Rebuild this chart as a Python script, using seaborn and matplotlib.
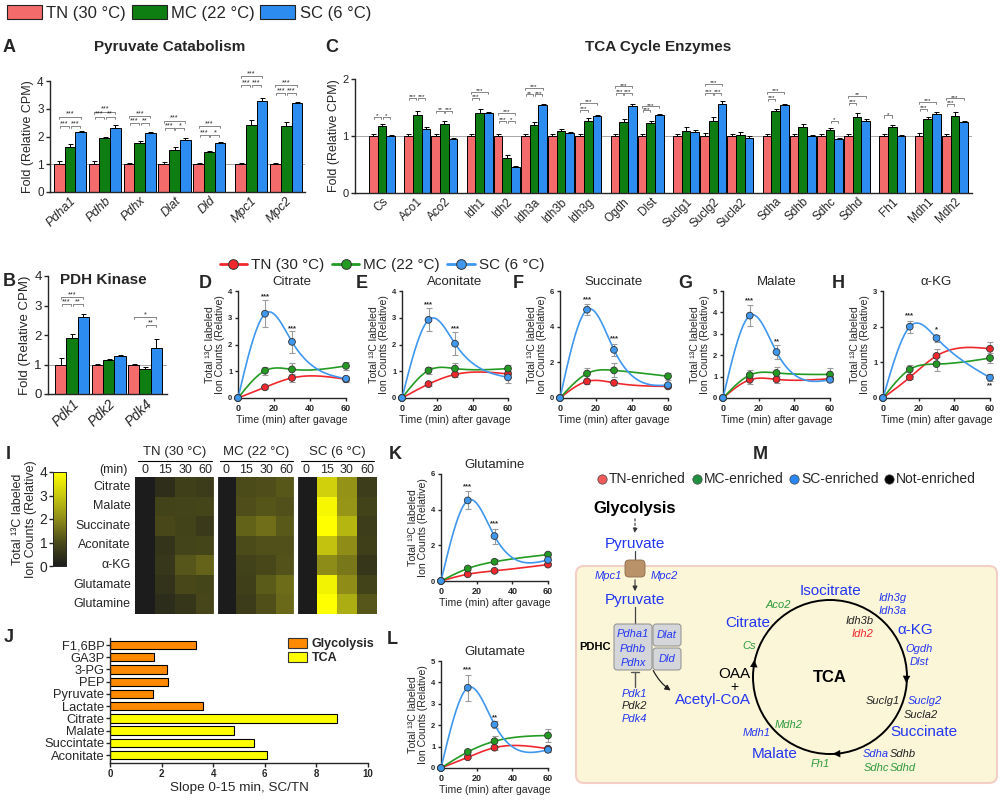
import matplotlib
matplotlib.use('Agg')
import numpy as np
import pandas as pd
import matplotlib.pyplot as plt
import seaborn as sns
from matplotlib.patches import Patch, FancyBboxPatch, Circle, FancyArrowPatch
from matplotlib.lines import Line2D
from matplotlib.colors import LinearSegmentedColormap

# =========================
# DATA
# =========================
groups = ['TN (30 °C)', 'MC (22 °C)', 'SC (6 °C)']
bar_colors = ['#f46b6b', '#0e7d12', '#2d8cf0']
line_colors = ['#f0282d', '#239b23', '#3f97ee']

# A - pyruvate catabolism
pyr_genes = ['Pdha1', 'Pdhb', 'Pdhx', 'Dlat', 'Dld', 'Mpc1', 'Mpc2']
pyr_pos = [0, 1, 2, 3, 4, 5.2, 6.2]
pyr_tn = [1.0, 1.0, 1.0, 1.0, 1.0, 1.0, 1.0]
pyr_mc = [1.63, 1.93, 1.75, 1.53, 1.43, 2.43, 2.37]
pyr_sc = [2.15, 2.32, 2.12, 1.88, 1.75, 3.27, 3.22]
pyr_err_tn = [0.10, 0.13, 0.06, 0.08, 0.05, 0.06, 0.03]
pyr_err_mc = [0.10, 0.05, 0.08, 0.08, 0.03, 0.15, 0.15]
pyr_err_sc = [0.05, 0.10, 0.05, 0.05, 0.05, 0.10, 0.04]
# (gene index, group a, group b, height, stars)
pyr_sig = [(0, 0, 2, 2.72, '***'), (0, 0, 1, 2.38, '***'), (0, 1, 2, 2.38, '***'),
           (1, 0, 2, 2.90, '***'), (1, 0, 1, 2.72, '***'), (1, 1, 2, 2.72, '**'),
           (2, 0, 2, 2.74, '***'), (2, 0, 1, 2.48, '***'), (2, 1, 2, 2.48, '**'),
           (3, 0, 2, 2.57, '***'), (3, 0, 1, 2.29, '***'), (3, 1, 2, 2.29, '*'),
           (4, 0, 2, 2.38, '***'), (4, 0, 1, 2.06, '***'), (4, 1, 2, 2.06, '*'),
           (5, 0, 2, 4.18, '***'), (5, 0, 1, 3.86, '***'), (5, 1, 2, 3.86, '***'),
           (6, 0, 2, 3.86, '***'), (6, 0, 1, 3.56, '***'), (6, 1, 2, 3.56, '***')]

# B - PDH kinase
pdk_genes = ['Pdk1', 'Pdk2', 'Pdk4']
pdk_pos = [0, 1, 2]
pdk_tn = [1.0, 1.0, 1.0]
pdk_mc = [1.9, 1.15, 0.85]
pdk_sc = [2.6, 1.28, 1.55]
pdk_err_tn = [0.22, 0.03, 0.03]
pdk_err_mc = [0.12, 0.05, 0.07]
pdk_err_sc = [0.10, 0.03, 0.30]
pdk_sig = [(0, 0, 2, 3.30, '***'), (0, 0, 1, 3.04, '***'), (0, 1, 2, 3.04, '**'),
           (2, 0, 2, 2.62, '*'), (2, 1, 2, 2.34, '**')]

# C - TCA cycle enzymes
tca_genes = ['Cs', 'Aco1', 'Aco2', 'Idh1', 'Idh2', 'Idh3a', 'Idh3b', 'Idh3g', 'Ogdh', 'Dlst',
             'Suclg1', 'Suclg2', 'Sucla2', 'Sdha', 'Sdhb', 'Sdhc', 'Sdhd', 'Fh1', 'Mdh1', 'Mdh2']
tca_pos = [0, 1.3, 2.3, 3.6, 4.6, 5.6, 6.6, 7.6, 8.9, 9.9,
           11.2, 12.2, 13.2, 14.5, 15.5, 16.5, 17.5, 18.8, 20.1, 21.1]
tca_tn = [1.0] * 20
tca_mc = [1.17, 1.36, 1.21, 1.40, 0.62, 1.20, 1.08, 1.27, 1.25, 1.23,
          1.08, 1.26, 1.02, 1.43, 1.15, 1.10, 1.33, 1.16, 1.30, 1.35]
tca_sc = [1.00, 1.12, 0.95, 1.40, 0.45, 1.54, 1.05, 1.35, 1.52, 1.37,
          1.07, 1.57, 0.97, 1.55, 1.00, 0.95, 1.27, 1.00, 1.38, 1.25]
tca_err_tn = [0.03, 0.03, 0.04, 0.04, 0.03, 0.04, 0.04, 0.03, 0.04, 0.04,
              0.04, 0.06, 0.03, 0.03, 0.03, 0.03, 0.04, 0.04, 0.06, 0.03]
tca_err_mc = [0.04, 0.08, 0.05, 0.08, 0.05, 0.05, 0.04, 0.04, 0.05, 0.03,
              0.07, 0.08, 0.05, 0.04, 0.06, 0.04, 0.08, 0.04, 0.03, 0.07]
tca_err_sc = [0.02, 0.03, 0.02, 0.02, 0.02, 0.03, 0.02, 0.02, 0.04, 0.02,
              0.03, 0.04, 0.03, 0.02, 0.02, 0.02, 0.03, 0.02, 0.04, 0.02]
tca_sig = [(0, 0, 1, 1.33, '*'), (0, 1, 2, 1.33, '*'),
           (1, 0, 1, 1.67, '***'), (1, 1, 2, 1.67, '***'),
           (2, 0, 1, 1.44, '**'), (2, 1, 2, 1.44, '***'),
           (3, 0, 2, 1.78, '***'), (3, 0, 1, 1.67, '***'),
           (4, 0, 2, 1.40, '***'), (4, 0, 1, 1.27, '***'), (4, 1, 2, 1.27, '*'),
           (5, 0, 2, 1.84, '***'), (5, 0, 1, 1.73, '**'), (5, 1, 2, 1.73, '***'),
           (7, 0, 2, 1.58, '***'), (7, 0, 1, 1.46, '***'),
           (8, 0, 2, 1.87, '***'), (8, 0, 1, 1.75, '***'), (8, 1, 2, 1.75, '***'),
           (9, 0, 2, 1.52, '***'), (9, 0, 1, 1.45, '***'),
           (11, 0, 2, 1.91, '***'), (11, 0, 1, 1.76, '***'), (11, 1, 2, 1.76, '***'),
           (13, 0, 2, 1.78, '***'), (13, 0, 1, 1.65, '***'),
           (15, 1, 2, 1.26, '*'),
           (16, 0, 2, 1.71, '**'), (16, 0, 1, 1.58, '***'),
           (17, 0, 1, 1.36, '*'),
           (18, 0, 2, 1.60, '***'), (18, 0, 1, 1.47, '***'),
           (19, 0, 2, 1.66, '***'), (19, 0, 1, 1.56, '***')]

# D-H, K, L - 13C labelling time courses
times = [0, 15, 30, 60]
citrate = {'tn': [0, 0.40, 0.75, 0.70], 'mc': [0, 1.02, 1.07, 1.20], 'sc': [0, 3.15, 2.10, 0.72],
           'err': [[0, 0.05, 0.15, 0.10], [0, 0.15, 0.22, 0.15], [0, 0.50, 0.40, 0.10]]}
aconitate = {'tn': [0, 0.52, 0.88, 0.90], 'mc': [0, 1.03, 1.10, 1.10], 'sc': [0, 2.92, 2.03, 0.77],
             'err': [[0, 0.08, 0.10, 0.10], [0, 0.12, 0.20, 0.12], [0, 0.43, 0.42, 0.20]]}
succinate = {'tn': [0, 0.93, 0.85, 0.65], 'mc': [0, 1.37, 1.55, 1.22], 'sc': [0, 4.95, 2.70, 0.72],
             'err': [[0, 0.13, 0.10, 0.10], [0, 0.30, 0.40, 0.20], [0, 0.30, 0.35, 0.10]]}
malate = {'tn': [0, 0.85, 0.87, 0.90], 'mc': [0, 1.07, 1.17, 1.10], 'sc': [0, 3.85, 2.15, 0.85],
          'err': [[0, 0.20, 0.15, 0.12], [0, 0.25, 0.30, 0.30], [0, 0.48, 0.35, 0.10]]}
akg = {'tn': [0, 0.58, 1.18, 1.38], 'mc': [0, 0.80, 0.95, 1.12], 'sc': [0, 2.00, 1.68, 0.57],
       'err': [[0, 0.05, 0.18, 0.18], [0, 0.12, 0.20, 0.15], [0, 0.17, 0.10, 0.10]]}
glutamine = {'tn': [0, 0.38, 0.57, 0.92], 'mc': [0, 0.70, 1.08, 1.48], 'sc': [0, 4.52, 2.52, 1.18],
             'err': [[0, 0.05, 0.08, 0.10], [0, 0.08, 0.15, 0.15], [0, 0.50, 0.42, 0.15]]}
glutamate = {'tn': [0, 0.50, 0.95, 0.90], 'mc': [0, 0.75, 1.25, 1.52], 'sc': [0, 3.75, 2.03, 0.85],
             'err': [[0, 0.05, 0.10, 0.10], [0, 0.10, 0.25, 0.30], [0, 0.60, 0.15, 0.10]]}

# I - heatmap rows
hm_rows = ['Citrate', 'Malate', 'Succinate', 'Aconitate', 'α-KG', 'Glutamate', 'Glutamine']
hm_series = [citrate, malate, succinate, aconitate, akg, glutamate, glutamine]
hm_cols = ['0', '15', '30', '60'] * 3

# J - slopes
slope_labels = ['F1,6BP', 'GA3P', '3-PG', 'PEP', 'Pyruvate', 'Lactate',
                'Citrate', 'Malate', 'Succintate', 'Aconitate']
slope_vals = [3.35, 1.7, 2.2, 2.25, 1.65, 3.6, 8.8, 4.8, 5.6, 6.1]
slope_path = ['Glycolysis'] * 6 + ['TCA'] * 4

# =========================
# STYLE
# =========================
sns.set_style('ticks')
plt.rcParams['font.family'] = ['Liberation Sans', 'DejaVu Sans']
plt.rcParams['axes.linewidth'] = 1.0
plt.rcParams['xtick.major.width'] = 1.0
plt.rcParams['ytick.major.width'] = 1.0

W, H = 1002, 801


def box(x0, y0, x1, y1):
    return [x0 / W, 1 - y1 / H, (x1 - x0) / W, (y1 - y0) / H]


def fx(x):
    return x / W


def fy(y):
    return 1 - y / H


fig = plt.figure(figsize=(10.02, 8.01), dpi=100)


# =========================
# BAR PANELS
# =========================
def bar_panel(ax, genes, pos, means, errs, width, sig, ymax, italic, fs, star_fs=5.2):
    rows = []
    for g, vals in zip(groups, means):
        for p, v in zip(pos, vals):
            rows.append((p, g, v))
    df = pd.DataFrame(rows, columns=['pos', 'group', 'fold'])
    sns.barplot(data=df, x='pos', y='fold', hue='group', hue_order=groups,
                palette=bar_colors, native_scale=True, width=width, errorbar=None,
                saturation=1, edgecolor='black', linewidth=0.7, legend=False, ax=ax, zorder=2)
    bw = width / 3
    for i, (vals, ers) in enumerate(zip(means, errs)):
        xs = np.array(pos) + (i - 1) * bw
        ax.errorbar(xs, vals, yerr=[np.zeros(len(vals)), ers], fmt='none',
                    ecolor='black', elinewidth=0.7, capsize=1.8, capthick=0.7, zorder=3)
    ax.axhline(1, color='#9a9a9a', lw=0.6, zorder=1)
    dy = ymax * 0.018
    for gi, a, b, y, lab in sig:
        x0 = pos[gi] + (a - 1) * bw
        x1 = pos[gi] + (b - 1) * bw
        if b - a == 1:
            x0 += bw * 0.08
            x1 -= bw * 0.08
        ax.plot([x0, x0, x1, x1], [y - dy, y, y, y - dy], color='#555555', lw=0.5, clip_on=False)
        ax.text((x0 + x1) / 2, y - dy * 0.6, lab, ha='center', va='bottom', fontsize=star_fs,
                color='#222222', clip_on=False)
    ax.set_ylim(0, ymax)
    ax.set_xticks(pos)
    ax.set_xticklabels(genes, rotation=45, ha='right', rotation_mode='anchor',
                       fontstyle='italic' if italic else 'normal', fontsize=fs)
    ax.tick_params(axis='x', length=0, pad=2)
    ax.tick_params(axis='y', length=3, labelsize=fs - 0.5, pad=1.5)
    ax.set_xlabel('')
    sns.despine(ax=ax)


axA = fig.add_axes(box(50, 81, 305, 192))
bar_panel(axA, pyr_genes, pyr_pos, [pyr_tn, pyr_mc, pyr_sc],
          [pyr_err_tn, pyr_err_mc, pyr_err_sc], 0.92, pyr_sig, 4, True, 9)
axA.set_xlim(-0.57, 6.74)
axA.set_yticks([0, 1, 2, 3, 4])
axA.set_ylabel('Fold (Relative CPM)', fontsize=9, labelpad=2)

axC = fig.add_axes(box(355, 79, 972, 193))
bar_panel(axC, tca_genes, tca_pos, [tca_tn, tca_mc, tca_sc],
          [tca_err_tn, tca_err_mc, tca_err_sc], 0.96, tca_sig, 2, False, 8.5, star_fs=4.6)
axC.set_xlim(-0.99, 21.73)
axC.set_yticks([0, 1, 2])
axC.set_ylabel('Fold (Relative CPM)', fontsize=9, labelpad=2)

axB = fig.add_axes(box(48, 276, 167, 394))
bar_panel(axB, pdk_genes, pdk_pos, [pdk_tn, pdk_mc, pdk_sc],
          [pdk_err_tn, pdk_err_mc, pdk_err_sc], 0.93, pdk_sig, 4, True, 10)
axB.set_xlim(-0.66, 2.6)
axB.set_yticks([0, 1, 2, 3, 4])
axB.set_ylabel('Fold (Relative CPM)', fontsize=9.5, labelpad=2)

fig.text(fx(170), fy(47), 'Pyruvate Catabolism', ha='center', va='center', fontsize=11, weight='bold')
fig.text(fx(658), fy(47), 'TCA Cycle Enzymes', ha='center', va='center', fontsize=11, weight='bold')
fig.text(fx(103), fy(280), 'PDH Kinase', ha='center', va='center', fontsize=11, weight='bold')

fig.legend([Patch(facecolor=c, edgecolor='#222222', lw=0.8) for c in bar_colors], groups,
           loc='upper left', bbox_to_anchor=(-0.008, 1.012), ncol=3, frameon=False, fontsize=12,
           handlelength=2.1, handleheight=0.9, handletextpad=0.25, columnspacing=0.35)


# =========================
# TIME COURSE PANELS
# =========================
def natural_spline(xs, ys, num=200):
    xs = np.asarray(xs, float)
    ys = np.asarray(ys, float)
    n = len(xs)
    h = np.diff(xs)
    A = np.zeros((n, n))
    b = np.zeros(n)
    A[0, 0] = A[-1, -1] = 1
    for i in range(1, n - 1):
        A[i, i - 1] = h[i - 1]
        A[i, i] = 2 * (h[i - 1] + h[i])
        A[i, i + 1] = h[i]
        b[i] = 6 * ((ys[i + 1] - ys[i]) / h[i] - (ys[i] - ys[i - 1]) / h[i - 1])
    M = np.linalg.solve(A, b)
    xx = np.linspace(xs[0], xs[-1], num)
    idx = np.clip(np.searchsorted(xs, xx) - 1, 0, n - 2)
    x0, x1 = xs[idx], xs[idx + 1]
    hh = x1 - x0
    t0, t1 = x1 - xx, xx - x0
    yy = (M[idx] * t0 ** 3 / (6 * hh) + M[idx + 1] * t1 ** 3 / (6 * hh)
          + (ys[idx] / hh - M[idx] * hh / 6) * t0 + (ys[idx + 1] / hh - M[idx + 1] * hh / 6) * t1)
    return xx, yy


def line_panel(rect, title, d, ymax, yticks, stars):
    ax = fig.add_axes(rect)
    series = [d['tn'], d['mc'], d['sc']]
    rows = []
    for g, vals in zip(groups, series):
        for t, v in zip(times, vals):
            rows.append((t, g, v))
    df = pd.DataFrame(rows, columns=['time', 'group', 'value'])
    for vals, er, c in zip(series, d['err'], line_colors):
        xx, yy = natural_spline(times, vals)
        ax.plot(xx, yy, color=c, lw=1.2, clip_on=False, zorder=3)
        ax.errorbar(times, vals, yerr=er, fmt='none', ecolor='#9a9a9a', elinewidth=0.8,
                    capsize=2, capthick=0.8, clip_on=False, zorder=2)
    sns.scatterplot(data=df, x='time', y='value', hue='group', hue_order=groups,
                    palette=line_colors, s=24, edgecolor='#333333', linewidth=0.6,
                    legend=False, ax=ax, clip_on=False, zorder=5)
    for t, y, lab in stars:
        ax.text(t, y, lab, ha='center', va='center', fontsize=5.5, weight='bold')
    ax.set_xlim(0, 60)
    ax.set_ylim(0, ymax)
    ax.set_xticks([0, 20, 40, 60])
    ax.set_yticks(yticks)
    ax.tick_params(axis='both', length=2.5, pad=1.5)
    ax.tick_params(axis='x', labelsize=6.5)
    ax.tick_params(axis='y', labelsize=5.5)
    for lab in ax.get_xticklabels() + ax.get_yticklabels():
        lab.set_fontweight('bold')
    ax.set_title(title, fontsize=9.5, pad=4)
    ax.set_xlabel('Time (min) after gavage', fontsize=7.6, labelpad=2)
    ax.set_ylabel('Total ¹³C labeled\nIon Counts (Relative)', fontsize=7.6, labelpad=2,
                  linespacing=1.1)
    sns.despine(ax=ax)
    return ax


line_panel(box(238, 291, 346, 398), 'Citrate', citrate, 4, [0, 1, 2, 3, 4],
           [(15, 3.78, '***'), (30, 2.6, '***')])
line_panel(box(402, 291, 508, 398), 'Aconitate', aconitate, 4, [0, 1, 2, 3, 4],
           [(15, 3.5, '***'), (30, 2.58, '***')])
line_panel(box(560, 291, 668, 398), 'Succinate', succinate, 6, [0, 2, 4, 6],
           [(15, 5.5, '***'), (30, 3.3, '***')])
line_panel(box(723, 291, 830, 398), 'Malate', malate, 5, [0, 1, 2, 3, 4, 5],
           [(15, 4.55, '***'), (30, 2.65, '**')])
line_panel(box(883, 291, 990, 398), 'α-KG', akg, 3, [0, 1, 2, 3],
           [(15, 2.32, '***'), (30, 1.9, '*'), (60, 0.33, '**')])
line_panel(box(441, 474, 548, 581), 'Glutamine', glutamine, 6, [0, 2, 4, 6],
           [(15, 5.3, '***'), (30, 3.2, '***')])
line_panel(box(441, 661, 548, 768), 'Glutamate', glutamate, 5, [0, 1, 2, 3, 4, 5],
           [(15, 4.6, '***'), (30, 2.35, '**')])

fig.legend([Line2D([0], [0], color=c, lw=2, marker='o', markersize=7,
                   markeredgecolor='#333333', markeredgewidth=0.7) for c in line_colors],
           groups, loc='center', bbox_to_anchor=(fx(382), fy(265)), ncol=3, frameon=False,
           fontsize=11, handlelength=1.8, handletextpad=0.25, columnspacing=0.5)

# =========================
# HEATMAP (I)
# =========================
hm = np.array([s['tn'] + s['mc'] + s['sc'] for s in hm_series])
hm_cmap = LinearSegmentedColormap.from_list(
    'ky', ['#1c1c1c', '#4a4a1a', '#8e8c18', '#c8c80e', '#ffff00'])
hax = fig.add_axes(box(135, 477, 377, 614))
cax = fig.add_axes(box(53, 472, 66, 566))
sns.heatmap(hm, ax=hax, cmap=hm_cmap, vmin=0, vmax=4, cbar_ax=cax,
            xticklabels=hm_cols, yticklabels=hm_rows)
hax.xaxis.tick_top()
hax.tick_params(axis='both', length=0, labelsize=9)
hax.tick_params(axis='x', pad=1)
hax.tick_params(axis='y', pad=3)
plt.setp(hax.get_yticklabels(), rotation=0)
plt.setp(hax.get_xticklabels(), rotation=0)
for xv in [4, 8]:
    hax.axvline(xv, color='white', lw=3)
cax.yaxis.set_ticks_position('left')
cax.yaxis.set_label_position('left')
cax.set_yticks([0, 1, 2, 3, 4])
cax.tick_params(labelsize=10, length=3, pad=1)
cax.set_ylabel('Total ¹³C labeled\nIon Counts (Relative)', fontsize=9, labelpad=2, linespacing=1.1)
for sp in cax.spines.values():
    sp.set_visible(True)
    sp.set_linewidth(0.6)

for x0, x1, lab in [(135, 215, groups[0]), (217, 296, groups[1]), (298, 377, groups[2])]:
    fig.text(fx((x0 + x1) / 2), fy(452), lab, ha='center', va='center', fontsize=9.5)
    fig.add_artist(Line2D([fx(x0 + 3), fx(x1 - 3)], [fy(461), fy(461)], color='black',
                          lw=0.8, transform=fig.transFigure))
fig.text(fx(128), fy(470), '(min)', ha='right', va='center', fontsize=9)

# =========================
# SLOPES (J)
# =========================
jax = fig.add_axes(box(110, 638, 368, 763))
sdf = pd.DataFrame({'metab': slope_labels, 'slope': slope_vals, 'path': slope_path})
path_colors = {'Glycolysis': '#ff8a00', 'TCA': '#ffff00'}
sns.barplot(data=sdf, x='slope', y='metab', hue='path', palette=path_colors, dodge=False,
            width=0.68, saturation=1, edgecolor='black', linewidth=0.8, legend=False, ax=jax)
jax.set_xlim(0, 10)
jax.set_ylim(9.65, -0.57)
jax.set_xticks([0, 2, 4, 6, 8, 10])
jax.tick_params(axis='y', labelsize=9.3, length=3, pad=1)
jax.tick_params(axis='x', labelsize=7, length=3, pad=1.5)
for lab in jax.get_xticklabels():
    lab.set_fontweight('bold')
jax.set_ylabel('')
jax.set_xlabel('Slope 0-15 min, SC/TN', fontsize=9.7, labelpad=2)
sns.despine(ax=jax)
jax.legend([Patch(facecolor=path_colors[k], edgecolor='#333333', lw=0.8) for k in path_colors],
           list(path_colors), loc='upper left', bbox_to_anchor=(0.665, 1.05), frameon=False,
           prop={'weight': 'bold', 'size': 9}, handlelength=1.5, handleheight=0.8,
           handletextpad=0.4, labelspacing=0.15, borderpad=0)

# =========================
# SCHEMATIC (M)
# =========================
BLUE = '#2336f0'
GREEN = '#2f9a3c'
RED = '#f0242a'
DARK = '#222222'
mx = fig.add_axes(box(560, 440, 1002, 801))
mx.set_xlim(560, 1002)
mx.set_ylim(801, 440)
mx.axis('off')

leg_x = [602, 697, 794, 889]
leg_colors = ['#f05a5a', '#1e9040', '#2a86f0', 'black']
leg_labels = ['TN-enriched', 'MC-enriched', 'SC-enriched', 'Not-enriched']
for x, c, lab in zip(leg_x, leg_colors, leg_labels):
    mx.scatter([x], [479], s=45, color=c, edgecolor='#444444', linewidth=0.5, zorder=3)
    mx.text(x + 7, 479, lab, ha='left', va='center', fontsize=10)

mx.add_patch(FancyBboxPatch((576, 566), 421, 217, boxstyle='round,pad=0,rounding_size=8',
                            facecolor='#fbf6d8', edgecolor='#f4cfc6', lw=1.5, zorder=0))

mx.add_patch(FancyArrowPatch((635, 516), (635, 536), arrowstyle='-|>', mutation_scale=7,
                             color='#333333', lw=0.8, linestyle=(0, (2, 2))))
mx.plot([635, 635], [551, 560], color='#444444', lw=0.9)
mx.add_patch(FancyBboxPatch((625, 560), 20, 17, boxstyle='round,pad=0,rounding_size=4',
                            facecolor='#b9926a', edgecolor='#8a6a4a', lw=0.6, zorder=2))
mx.add_patch(FancyArrowPatch((635, 577), (635, 594), arrowstyle='-|>', mutation_scale=7,
                             color='#333333', lw=0.8))
mx.plot([635, 635], [607, 624], color='#444444', lw=0.9)
mx.add_patch(FancyBboxPatch((614, 624), 38, 46, boxstyle='round,pad=0,rounding_size=3',
                            facecolor='#d4d6da', edgecolor='#8c8c8c', lw=0.7, zorder=2))
mx.add_patch(FancyBboxPatch((653, 624), 28, 22, boxstyle='round,pad=0,rounding_size=3',
                            facecolor='#d4d6da', edgecolor='#8c8c8c', lw=0.7, zorder=2))
mx.add_patch(FancyBboxPatch((653, 648), 28, 22, boxstyle='round,pad=0,rounding_size=3',
                            facecolor='#d4d6da', edgecolor='#8c8c8c', lw=0.7, zorder=2))
mx.plot([635, 635], [672, 687], color='#555555', lw=1.0)
mx.plot([631, 639], [672, 672], color='#555555', lw=1.0)
mx.add_patch(FancyArrowPatch((652, 668), (673, 692), arrowstyle='-|>', mutation_scale=8,
                             connectionstyle='arc3,rad=0.15', color='#222222', lw=0.9))

mx.add_patch(Circle((830, 677), 77, facecolor='none', edgecolor='black', lw=1.4, zorder=1))
for (x0, y0), (x1, y1) in [((753.2, 674), (754.6, 657)), ((906.8, 668), (906.2, 686)),
                           ((846, 753.5), (830, 754))]:
    mx.add_patch(FancyArrowPatch((x0, y0), (x1, y1), arrowstyle='-|>', mutation_scale=13,
                                 color='black', lw=0.1, zorder=3))

labels_m = [
    ('Glycolysis', 635, 508, 'black', 12, 'normal', 'bold'),
    ('Pyruvate', 635, 544, BLUE, 11, 'normal', 'normal'),
    ('Mpc1', 608, 576, BLUE, 8, 'italic', 'normal'),
    ('Mpc2', 664, 576, BLUE, 8, 'italic', 'normal'),
    ('Pyruvate', 635, 600, BLUE, 11, 'normal', 'normal'),
    ('PDHC', 595, 647, 'black', 8, 'normal', 'bold'),
    ('Pdha1', 633, 634, BLUE, 8, 'italic', 'normal'),
    ('Pdhb', 633, 649, BLUE, 8, 'italic', 'normal'),
    ('Pdhx', 633, 663, BLUE, 8, 'italic', 'normal'),
    ('Dlat', 667, 635, BLUE, 8, 'italic', 'normal'),
    ('Dld', 667, 659, BLUE, 8, 'italic', 'normal'),
    ('Pdk1', 634, 694, BLUE, 8, 'italic', 'normal'),
    ('Pdk2', 634, 706, DARK, 8, 'italic', 'normal'),
    ('Pdk4', 634, 719, BLUE, 8, 'italic', 'normal'),
    ('Acetyl-CoA', 713, 700, BLUE, 11, 'normal', 'normal'),
    ('OAA', 734, 674, 'black', 11, 'normal', 'normal'),
    ('+', 734, 687, 'black', 10, 'normal', 'normal'),
    ('TCA', 830, 677, 'black', 12, 'normal', 'bold'),
    ('Isocitrate', 831, 591, BLUE, 11, 'normal', 'normal'),
    ('Citrate', 748, 623, BLUE, 11, 'normal', 'normal'),
    ('Aco2', 778, 605, GREEN, 8, 'italic', 'normal'),
    ('Cs', 749, 646, GREEN, 8, 'italic', 'normal'),
    ('Idh3g', 893, 598, BLUE, 8, 'italic', 'normal'),
    ('Idh3a', 893, 611, BLUE, 8, 'italic', 'normal'),
    ('Idh3b', 860, 621, DARK, 8, 'italic', 'normal'),
    ('Idh2', 863, 634, RED, 8, 'italic', 'normal'),
    ('α-KG', 915, 630, BLUE, 11, 'normal', 'normal'),
    ('Ogdh', 919, 649, BLUE, 8, 'italic', 'normal'),
    ('Dlst', 919, 662, BLUE, 8, 'italic', 'normal'),
    ('Suclg1', 883, 701, DARK, 8, 'italic', 'normal'),
    ('Suclg2', 925, 701, BLUE, 8, 'italic', 'normal'),
    ('Sucla2', 921, 715, DARK, 8, 'italic', 'normal'),
    ('Succinate', 924, 732, BLUE, 11, 'normal', 'normal'),
    ('Sdha', 876, 754, BLUE, 8, 'italic', 'normal'),
    ('Sdhb', 903, 754, DARK, 8, 'italic', 'normal'),
    ('Sdhc', 876, 768, GREEN, 8, 'italic', 'normal'),
    ('Sdhd', 903, 768, GREEN, 8, 'italic', 'normal'),
    ('Fh1', 820, 764, GREEN, 8, 'italic', 'normal'),
    ('Malate', 775, 754, BLUE, 11, 'normal', 'normal'),
    ('Mdh1', 757, 733, BLUE, 8, 'italic', 'normal'),
    ('Mdh2', 789, 725, GREEN, 8, 'italic', 'normal'),
]
for txt, x, y, c, fs, st, wt in labels_m:
    mx.text(x, y, txt, ha='center', va='center', color=c, fontsize=fs, fontstyle=st,
            fontweight=wt, zorder=4)

# =========================
# PANEL LETTERS
# =========================
for lab, x, y in [('A', 9, 47), ('C', 332, 47), ('B', 9, 282), ('D', 205, 283),
                  ('E', 362, 283), ('F', 518, 283), ('G', 685, 283), ('H', 838, 283),
                  ('I', 8, 454), ('K', 395, 454), ('M', 760, 454), ('J', 9, 637),
                  ('L', 392, 640)]:
    fig.text(fx(x), fy(y), lab, ha='center', va='center', fontsize=13, weight='bold')

fig.savefig('out.png', dpi=100)
print('Saved: out.png')
